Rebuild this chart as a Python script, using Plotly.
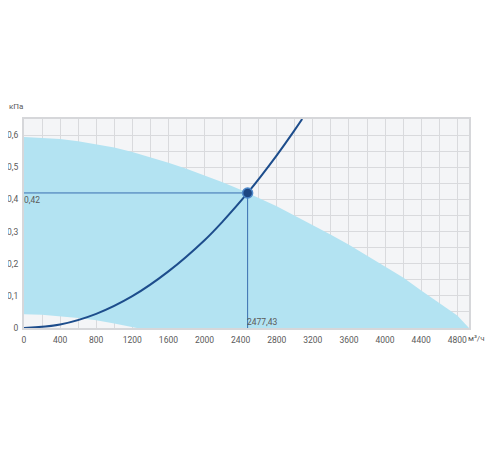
import plotly.graph_objects as go

# fan working zone: upper boundary (max pressure) and lower boundary
upper_x = [0, 200, 400, 600, 800, 1000, 1200, 1400, 1600, 1800, 2000, 2200, 2400, 2477.43,
           2600, 2800, 3000, 3200, 3400, 3600, 3800, 4000, 4200, 4400, 4600, 4800, 4930]
upper_y = [0.594, 0.592, 0.588, 0.581, 0.572, 0.561, 0.547, 0.531, 0.514, 0.495, 0.475, 0.453,
           0.43, 0.42, 0.404, 0.379, 0.349, 0.32, 0.29, 0.259, 0.225, 0.193, 0.157, 0.117,
           0.078, 0.039, 0.0]
lower_x = [0, 200, 400, 600, 800, 1000, 1250]
lower_y = [0.043, 0.041, 0.037, 0.031, 0.024, 0.014, 0.0]

# network (system) curve
system_x = [0, 400, 800, 1200, 1600, 2000, 2200, 2477.43, 2800, 3000, 3082]
system_y = [0.0, 0.011, 0.044, 0.099, 0.176, 0.273, 0.331, 0.42, 0.537, 0.616, 0.65]

work_q = 2477.43
work_p = 0.42

zone_x = upper_x + [lower_x[-1]] + lower_x[::-1]
zone_y = upper_y + [lower_y[-1]] + lower_y[::-1]

fig = go.Figure()
fig.add_trace(
    go.Scatter(
        x=zone_x,
        y=zone_y,
        mode="lines",
        fill="toself",
        fillcolor="#b3e3f2",
        line=dict(color="#b3e3f2", width=0),
        hoverinfo="skip",
        showlegend=False,
    )
)
fig.add_trace(
    go.Scatter(
        x=[0, work_q, work_q],
        y=[work_p, work_p, 0],
        mode="lines",
        line=dict(color="#3a6fb0", width=1),
        hoverinfo="skip",
        showlegend=False,
    )
)
fig.add_trace(
    go.Scatter(
        x=system_x,
        y=system_y,
        mode="lines",
        line=dict(color="#1d4d8c", width=2, shape="spline"),
        showlegend=False,
    )
)
fig.add_trace(
    go.Scatter(
        x=[work_q],
        y=[work_p],
        mode="markers",
        marker=dict(size=10, color="#1c4682", line=dict(color="#4d88c9", width=1.5)),
        showlegend=False,
    )
)

label_font = dict(family="Roboto, sans-serif", size=8.5, color="#5a5a5a")

# the page body adds 8px on every side, so the figure is the window minus 16px
fig.update_layout(
    width=484,
    height=434,
    margin=dict(l=16, r=23, t=111, b=114),
    paper_bgcolor="white",
    plot_bgcolor="#f4f5f7",
    separators=", ",
    font=label_font,
    xaxis=dict(
        range=[0, 4930],
        tickmode="array",
        tickvals=[0, 400, 800, 1200, 1600, 2000, 2400, 2800, 3200, 3600, 4000, 4400, 4800],
        showgrid=True,
        gridcolor="#d9dadd",
        gridwidth=1,
        minor=dict(dtick=200, showgrid=True, gridcolor="#d9dadd", gridwidth=1),
        zeroline=False,
        showline=True,
        linecolor="#d6d7da",
        linewidth=2,
        mirror=True,
        ticks="",
        automargin=False,
        ticklabelstandoff=3,
        tickfont=label_font,
    ),
    yaxis=dict(
        range=[0, 0.65],
        tickvals=[0, 0.1, 0.2, 0.3, 0.4, 0.5, 0.6],
        showgrid=True,
        gridcolor="#d9dadd",
        gridwidth=1,
        minor=dict(dtick=0.05, showgrid=True, gridcolor="#d9dadd", gridwidth=1),
        zeroline=False,
        showline=True,
        linecolor="#d6d7da",
        linewidth=2,
        mirror=True,
        ticks="",
        automargin=False,
        ticklabelstandoff=2,
        tickfont=label_font,
    ),
    annotations=[
        dict(x=0, y=work_p, xref="x", yref="y", xanchor="left", yanchor="top",
             text="0,42", showarrow=False, font=label_font, xshift=-2),
        dict(x=work_q, y=0, xref="x", yref="y", xanchor="left", yanchor="bottom",
             text="2477,43", showarrow=False, font=label_font, xshift=-3, yshift=-1),
        dict(x=-0.038, y=1.062, xref="paper", yref="paper", xanchor="left", yanchor="middle",
             text="кПа", showarrow=False, font=dict(family="Roboto, sans-serif", size=8, color="#5a5a5a")),
        dict(x=1.04, y=-0.05, xref="paper", yref="paper", xanchor="right", yanchor="middle",
             text="м³/ч", showarrow=False, font=dict(family="Roboto, sans-serif", size=8, color="#5a5a5a")),
    ],
)

fig.write_html("out.html")
